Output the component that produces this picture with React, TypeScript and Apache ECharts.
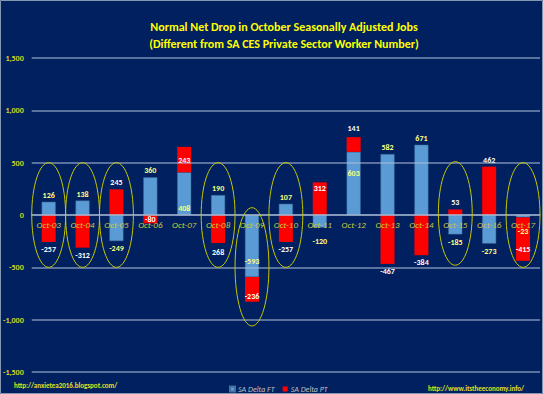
import React, { useEffect, useRef } from "react";
import * as echarts from "echarts";

// ---- data ----
const categories = [
  "Oct-03", "Oct-04", "Oct-05", "Oct-06", "Oct-07", "Oct-08", "Oct-09", "Oct-10",
  "Oct-11", "Oct-12", "Oct-13", "Oct-14", "Oct-15", "Oct-16", "Oct-17",
];
const ftValues = [126, 138, -249, 360, 408, 190, -593, 107, -120, 603, 582, 671, -185, -273, -23];
const ptValues = [-257, -312, 245, -80, 243, -268, -236, -257, 312, 141, -467, -384, 53, 462, -415];
const seriesNames = ["SA Delta FT", "SA Delta PT"];

const yMin = -1500;
const yMax = 1500;
const yInterval = 500;

// circled categories with the value range each ellipse spans
const circledCats = ["Oct-03", "Oct-04", "Oct-05", "Oct-08", "Oct-09", "Oct-10", "Oct-15", "Oct-17"];
const circleTop = [500, 500, 500, 500, 70, 500, 510, 500];
const circleBottom = [-500, -500, -500, -500, -1060, -500, -480, -500];

// label text overrides (as printed in the original)
const ptLabelText: Record<number, string> = { 5: "268" };

// ---- label placement (styling only) ----
type LP = { position: string; distance?: number; offset?: number[] };
const ftLabelPlace: LP[] = [
  { position: "outside" }, { position: "outside" }, { position: "outside" }, { position: "outside" },
  { position: "insideBottom", distance: 3 }, { position: "outside" },
  { position: "insideBottom", distance: 12 }, { position: "outside" },
  { position: "outside", distance: 9 }, { position: "inside", offset: [0, -10] },
  { position: "outside" }, { position: "outside" }, { position: "outside", distance: 4 },
  { position: "outside" }, { position: "outside", distance: 10 },
];
const ptLabelPlace: LP[] = [
  { position: "outside" }, { position: "outside" }, { position: "outside" }, { position: "inside" },
  { position: "inside" }, { position: "outside", distance: 5 },
  { position: "insideBottom", distance: 2 }, { position: "outside" },
  { position: "insideTop", distance: 2 }, { position: "outside", distance: 5 },
  { position: "outside" }, { position: "outside" }, { position: "outside" },
  { position: "outside" }, { position: "insideBottom", distance: 8 },
];

const FONT = "Carlito, 'Liberation Sans Narrow', 'Open Sans', sans-serif";

const GRID_TOP = 58;
const GRID_BOTTOM = 22;
const CHART_H = 394;

export default function App() {
  const ref = useRef<HTMLDivElement>(null);

  useEffect(() => {
    document.body.style.margin = "0";
    if (!ref.current) return;
    const chart = echarts.init(ref.current, null, { renderer: "svg" });

    const ftData = ftValues.map((v, i) => ({
      value: v,
      label: { ...ftLabelPlace[i] },
    }));
    const ptData = ptValues.map((v, i) => ({
      value: v,
      label: {
        ...ptLabelPlace[i],
        ...(ptLabelText[i] !== undefined ? { formatter: ptLabelText[i] } : {}),
      },
    }));
    const ellipseData = circledCats.map((c, i) => [categories.indexOf(c), circleTop[i], circleBottom[i]]);

    const gridColor = "rgba(170,188,215,0.7)";
    const gridH = CHART_H - GRID_TOP - GRID_BOTTOM;
    // lift the category axis from the grid bottom up to the value 0
    const zeroOffset = -gridH * ((0 - yMin) / (yMax - yMin));

    chart.setOption({
      animation: false,
      backgroundColor: "#002060",
      textStyle: { fontFamily: FONT },
      grid: { left: 30, right: 3, top: GRID_TOP, bottom: GRID_BOTTOM, containLabel: false },
      legend: {
        data: seriesNames,
        left: 224,
        top: 380,
        itemWidth: 5,
        itemHeight: 5,
        itemGap: 8,
        icon: "rect",
        textStyle: { color: "#BFBFBF", fontSize: 8, fontStyle: "italic", fontFamily: FONT, padding: [0, 0, 0, -2] },
      },
      xAxis: {
        type: "category",
        data: categories,
        position: "bottom",
        offset: zeroOffset,
        axisLine: { show: true, onZero: false, lineStyle: { color: gridColor, width: 1.5 } },
        axisTick: { show: false },
        axisLabel: {
          color: "#C8C83A",
          fontSize: 9,
          fontStyle: "italic",
          fontFamily: FONT,
          margin: 5,
        },
        z: 3,
      },
      yAxis: {
        type: "value",
        min: yMin,
        max: yMax,
        interval: yInterval,
        z: 3,
        axisLine: { show: false },
        axisTick: { show: false },
        splitLine: { lineStyle: { color: gridColor, width: 1.5 } },
        axisLabel: {
          color: "#D8D820",
          fontSize: 8,
          fontWeight: "bold",
          fontFamily: FONT,
          margin: 8,
          formatter: (v: number) => v.toLocaleString("en-US"),
        },
      },
      series: [
        {
          name: seriesNames[0],
          type: "bar",
          stack: "total",
          barWidth: 14,
          data: ftData,
          itemStyle: { color: "#5B9BD5", borderColor: "#41719C", borderWidth: 0.5 },
          label: {
            show: true,
            color: "#FFFF80",
            fontSize: 8,
            fontWeight: "bold",
            fontFamily: FONT,
            distance: 3,
          },
          z: 2,
        },
        {
          name: seriesNames[1],
          type: "bar",
          stack: "total",
          barWidth: 14,
          data: ptData,
          itemStyle: { color: "#FF0000" },
          label: {
            show: true,
            color: "#FFFFFF",
            fontSize: 8,
            fontWeight: "bold",
            fontFamily: FONT,
            distance: 3,
          },
          z: 2,
        },
        {
          type: "custom",
          name: "circles",
          data: ellipseData,
          silent: true,
          z: 4,
          encode: { x: 0, y: [1, 2] },
          renderItem: (params: any, api: any) => {
            const idx = api.value(0);
            const top = api.coord([idx, api.value(1)]);
            const bot = api.coord([idx, api.value(2)]);
            const w = api.size([1, 0])[0];
            return {
              type: "ellipse",
              shape: {
                cx: top[0],
                cy: (top[1] + bot[1]) / 2,
                rx: w / 2,
                ry: Math.abs(bot[1] - top[1]) / 2,
              },
              style: { fill: "none", stroke: "#C8C800", lineWidth: 1 },
            };
          },
        },
      ],
      graphic: [
        {
          type: "rect",
          silent: true,
          z: -1,
          shape: { x: 0.5, y: 0.5, width: 542, height: 393 },
          style: { fill: "none", stroke: "#8497B0", lineWidth: 1 },
        },
        {
          type: "text",
          x: 284,
          y: 27,
          style: {
            text: "Normal Net Drop in October Seasonally Adjusted Jobs",
            fill: "#FFFF00",
            font: `bold 12px ${FONT}`,
            textAlign: "center",
            textVerticalAlign: "middle",
          },
        },
        {
          type: "text",
          x: 284,
          y: 44,
          style: {
            text: "(Different from SA CES Private Sector Worker Number)",
            fill: "#FFFF00",
            font: `bold 12px ${FONT}`,
            textAlign: "center",
            textVerticalAlign: "middle",
          },
        },
        {
          type: "text",
          x: 14,
          y: 385,
          style: {
            text: "http://anxietea2016.blogspot.com/",
            fill: "#E0E020",
            font: `bold 7px ${FONT}`,
            textVerticalAlign: "middle",
          },
        },
        {
          type: "text",
          x: 428,
          y: 388,
          style: {
            text: "http://www.itstheeconomy.info/",
            fill: "#E0E020",
            font: `bold 7px ${FONT}`,
            textVerticalAlign: "middle",
          },
        },
      ],
    });

    return () => chart.dispose();
  }, []);

  return <div ref={ref} style={{ width: 543, height: 394 }} />;
}
